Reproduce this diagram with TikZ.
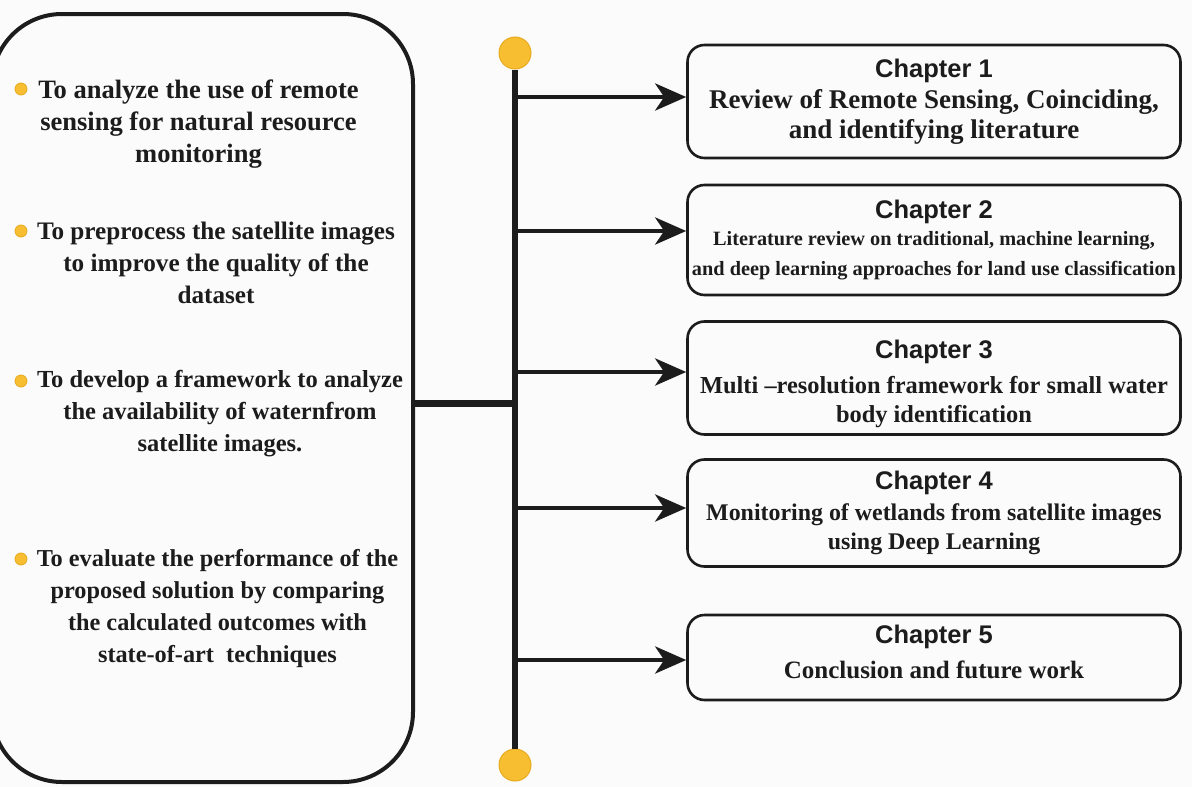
\documentclass[tikz,border=0pt]{standalone}
\usepackage{fontspec}
\setmainfont{Liberation Serif}
\setsansfont{Liberation Sans}
\usetikzlibrary{arrows.meta,calc}
\definecolor{ink}{RGB}{28,28,28}
\definecolor{dot}{RGB}{246,190,48}
\definecolor{dotedge}{RGB}{232,170,30}
\definecolor{paper}{RGB}{251,251,251}
\newcommand{\fsz}[1]{\fontsize{#1}{32}\selectfont}
\tikzset{
  aim/.style={text=ink, align=center, inner sep=0pt},
  bullet/.style={circle, fill=dot, draw=dotedge, line width=0.8pt, minimum size=12pt, inner sep=0pt},
  endcap/.style={circle, fill=dot, draw=dotedge, line width=1pt, minimum size=32pt, inner sep=0pt},
  chapbox/.style={draw=ink, line width=2.6pt, rounded corners=17pt, minimum width=493pt,
    text=ink, align=center, inner sep=0pt},
  feed/.style={draw=ink, line width=4.5pt, -{Stealth[length=31pt, width=27pt, inset=9pt]}},
}
\newcommand{\chaphead}[1]{{\sffamily\bfseries\fontsize{25.5}{30}\selectfont #1}}
\begin{document}
\begin{tikzpicture}[x=1pt, y=-1pt]
  \fill[paper] (0,0) rectangle (1192,787);
  \useasboundingbox (0,0) rectangle (1192,787);

  % objectives panel
  \draw[ink, line width=4pt, rounded corners=70pt] (-8,14) rectangle (413,782);
  \node[name=panel, inner sep=0pt, minimum width=421pt, minimum height=768pt] at (202.5,398) {};

  \node[aim, font=\bfseries\fsz{26.5}] (a1) at (198.5,124)
    {To analyze the use of remote\\ sensing for natural resource\\ monitoring};
  \node[aim, font=\bfseries\fsz{25.2}] (a2) at (216,263)
    {To preprocess the satellite images\\ to improve the quality of the\\ dataset};
  \node[aim, font=\bfseries\fsz{24.5}] (a3) at (220,414)
    {To develop a framework to analyze\\ the availability of waternfrom\\ satellite images.};
  \node[aim, font=\bfseries\fsz{24.3}] (a4) at (217.5,609)
    {To evaluate the performance of the\\ proposed solution by comparing\\ the calculated outcomes with\\ state-of-art\ \ techniques};

  \node[bullet] (b1) at (21,89) {};
  \node[bullet] (b2) at (21,231) {};
  \node[bullet] (b3) at (21,381) {};
  \node[bullet] (b4) at (21,559) {};

  % timeline spine
  \node[endcap] (top) at (515,53) {};
  \node[endcap] (bot) at (515,765) {};
  \draw[ink, line width=6pt] (top.south) -- (bot.north);
  \coordinate (hub) at (515,403);
  \draw[ink, line width=7pt] (413,403) -- (hub);

  % chapter boxes
  \node[chapbox, minimum height=113pt, font=\bfseries\fontsize{27}{30}\selectfont] (c1) at (934,101.5)
    {\chaphead{Chapter 1}\\[1pt] Review of Remote Sensing, Coinciding,\\ and identifying literature};
  \node[chapbox, minimum height=110pt, font=\bfseries\fontsize{20.3}{30}\selectfont] (c2) at (934,240)
    {\chaphead{Chapter 2}\\[-3pt] Literature review on traditional, machine learning,\\ and deep learning approaches for land use classification};
  \node[chapbox, minimum height=113pt, font=\bfseries\fontsize{24.4}{29}\selectfont] (c3) at (934,378)
    {\rule{0pt}{31pt}\chaphead{Chapter 3}\\[6pt] Multi --resolution framework for small water\\ body identification};
  \node[chapbox, minimum height=107pt, font=\bfseries\fontsize{23.9}{29}\selectfont] (c4) at (934,513)
    {\chaphead{Chapter 4}\\[2pt] Monitoring of wetlands from satellite images\\ using Deep Learning};
  \node[chapbox, minimum height=85pt, font=\bfseries\fontsize{25}{30}\selectfont] (c5) at (934,657.5)
    {\chaphead{Chapter 5}\\[5pt] Conclusion and future work\rule[-12pt]{0pt}{1pt}};

  % branches from the spine
  \coordinate (s1) at (515,97);
  \coordinate (s2) at (515,231);
  \coordinate (s3) at (515,372);
  \coordinate (s4) at (515,508);
  \coordinate (s5) at (515,660);
  \foreach \i in {1,...,5} {
    \draw[feed] (s\i) -- (s\i -| c\i.west);
  }
\end{tikzpicture}
\end{document}
